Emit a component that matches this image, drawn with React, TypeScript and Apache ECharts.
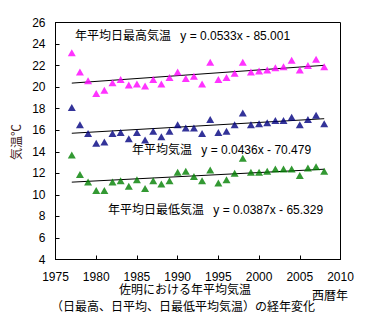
import React, { useEffect, useRef } from "react";
import * as echarts from "echarts";

const years = [1977, 1978, 1979, 1980, 1981, 1982, 1983, 1984, 1985, 1986, 1987, 1988, 1989, 1990, 1991, 1992, 1993, 1994, 1995, 1996, 1997, 1998, 1999, 2000, 2001, 2002, 2003, 2004, 2005, 2006, 2007, 2008];
const maxTemp = [23.2, 21.4, 20.6, 19.4, 19.7, 20.4, 20.7, 20.2, 20.3, 20.1, 20.7, 20.3, 20.9, 21.4, 20.8, 21.0, 20.3, 22.3, 20.7, 20.9, 21.3, 22.3, 21.4, 21.5, 21.6, 21.8, 21.9, 22.5, 21.6, 22.0, 22.6, 21.9];
const meanTemp = [18.1, 16.5, 15.7, 14.8, 14.9, 15.7, 15.8, 15.2, 15.8, 15.1, 15.9, 15.4, 15.9, 16.5, 16.2, 16.2, 15.7, 17.0, 15.8, 15.9, 16.5, 17.6, 16.5, 16.6, 16.7, 16.9, 16.9, 17.2, 16.5, 17.0, 17.4, 16.6];
const minTemp = [13.7, 11.9, 11.2, 10.4, 10.4, 11.2, 11.3, 10.8, 11.4, 10.6, 11.3, 11.0, 11.3, 12.1, 12.2, 11.7, 11.3, 12.3, 11.1, 11.4, 12.0, 13.4, 12.1, 12.1, 12.2, 12.4, 12.4, 12.4, 11.8, 12.5, 12.6, 12.2];

const seriesNames = ["年平均日最高気温", "年平均気温", "年平均日最低気温"];
const seriesColors = ["#ff00ff", "#000080", "#008000"];
const trendSlopes = [0.0533, 0.0436, 0.0387];
const trendIntercepts = [-85.001, -70.479, -65.329];
const trendLabels = [
  "年平均日最高気温\u2002 y = 0.0533x - 85.001",
  "年平均気温\u2002 y = 0.0436x - 70.479",
  "年平均日最低気温\u2002 y = 0.0387x - 65.329",
];
const yAxisTitle = "気温℃";
const xAxisTitle = "西暦年";
const titleLine1 = "佐明における年平均気温";
const titleLine2 = "（日最高、日平均、日最低平均気温）の経年変化";

const FONT = "Liberation Sans, Arial, Noto Sans CJK JP, sans-serif";

export default function App() {
  const ref = useRef<HTMLDivElement>(null);
  useEffect(() => {
    if (!ref.current) return;
    const chart = echarts.init(ref.current, undefined, { renderer: "svg" });
    const values = [maxTemp, meanTemp, minTemp];
    const scatterSeries = values.map((vals, i) => ({
      name: seriesNames[i],
      type: "scatter",
      symbol: "triangle",
      symbolSize: [8, 7],
      itemStyle: { color: seriesColors[i] },
      data: years.map((y, j) => [y, vals[j]]),
      z: 3,
    }));
    const trendSeries = trendSlopes.map((a, i) => {
      const x0 = years[0];
      const x1 = years[years.length - 1];
      return {
        type: "line",
        symbol: "none",
        lineStyle: { color: "#000", width: 1 },
        data: [
          [x0, a * x0 + trendIntercepts[i]],
          [x1, a * x1 + trendIntercepts[i]],
        ],
        z: 2,
      };
    });
    const textStyle = { fontSize: 12, fontFamily: FONT, fill: "#000" };
    chart.setOption({
      animation: false,
      grid: {
        left: 55.5,
        top: 22.5,
        width: 285,
        height: 237,
        show: true,
        borderColor: "#000",
        borderWidth: 1,
        backgroundColor: "transparent",
      },
      xAxis: {
        type: "value",
        min: 1975,
        max: 2010,
        interval: 5,
        axisLine: { show: true, lineStyle: { color: "#000", width: 1 } },
        axisTick: { show: true, inside: true, length: 4, lineStyle: { color: "#000" } },
        axisLabel: {
          color: "#000",
          fontSize: 12,
          fontFamily: FONT,
          margin: 11,
          formatter: (v: number) => String(v),
        },
        splitLine: { show: false },
      },
      yAxis: {
        type: "value",
        min: 4,
        max: 26,
        interval: 2,
        axisLine: { show: true, lineStyle: { color: "#000", width: 1 } },
        axisTick: { show: true, inside: true, length: 4, lineStyle: { color: "#000" } },
        axisLabel: { color: "#000", fontSize: 12, fontFamily: FONT, margin: 10 },
        splitLine: { show: false },
      },
      series: [...trendSeries, ...scatterSeries],
      graphic: [
        { type: "text", left: 75, top: 30, style: { ...textStyle, text: trendLabels[0] } },
        { type: "text", left: 132, top: 144, style: { ...textStyle, text: trendLabels[1] } },
        { type: "text", left: 108, top: 204, style: { ...textStyle, text: trendLabels[2] } },
        {
          type: "text",
          x: 17,
          y: 142,
          rotation: Math.PI / 2,
          style: { ...textStyle, fill: "#402020", text: yAxisTitle, align: "center", verticalAlign: "middle" },
        },
        { type: "text", left: 312, top: 290, style: { ...textStyle, text: xAxisTitle } },
        {
          type: "text",
          x: 185,
          y: 290,
          style: { ...textStyle, text: titleLine1, align: "center", verticalAlign: "middle" },
        },
        {
          type: "text",
          x: 183,
          y: 307,
          style: { ...textStyle, text: titleLine2, align: "center", verticalAlign: "middle" },
        },
      ],
    });
    return () => chart.dispose();
  }, []);
  return (
    <div
      ref={ref}
      style={{ position: "fixed", left: 0, top: 0, width: 372, height: 324, background: "#fff" }}
    />
  );
}
